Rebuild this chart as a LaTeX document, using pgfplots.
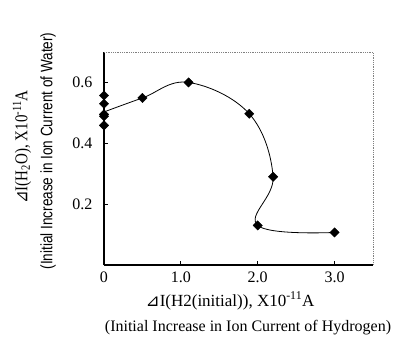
\documentclass[border=0pt]{standalone}
\usepackage{fontspec}
\setmainfont{Liberation Serif}
\newfontfamily\sym{DejaVu Sans}
\newfontfamily\narrow{Liberation Sans}
\usepackage{pgfplots}
\pgfplotsset{compat=1.18}
\begin{document}
\begin{tikzpicture}
\useasboundingbox (-104pt,-95pt) rectangle (316pt,265pt);
\begin{axis}[at={(0pt,0pt)}, anchor=south west, scale only axis,
  width=269pt, height=213pt,
  xmin=0, xmax=3.5, ymin=0, ymax=0.7,
  axis x line*=bottom, axis y line*=left,
  axis line style={line width=1.3pt, -},
  xtick={0,1,2,3}, xticklabels={0,1.0,2.0,3.0},
  ytick={0.2,0.4,0.6}, yticklabels={0.2,0.4,0.6},
  tick align=inside, major tick length=4pt,
  tick style={line width=1pt, black},
  ticklabel style={font=\fontsize{16}{16}\selectfont},
  yticklabel style={xshift=-8pt},
  xticklabel style={yshift=-3pt},
  clip=false]
\addplot[black, line width=0.8pt, smooth, tension=0.65] coordinates {
  (0,0.503) (0.5,0.549) (1.1,0.600) (1.89,0.497) (2.2,0.29) (2.0,0.13) (3.0,0.107)};
\addplot[only marks, mark=square*, mark size=3.3pt, mark options={rotate=45}, black] coordinates {
  (0,0.557) (0,0.530) (0,0.495) (0,0.489) (0,0.459)
  (0.5,0.549) (1.1,0.600) (1.89,0.497) (2.2,0.29) (2.0,0.13) (3.0,0.107)};
\draw[gray, densely dotted, line width=0.8pt] (rel axis cs:0,1) -- (rel axis cs:1,1) -- (rel axis cs:1,0);
\end{axis}
\node[rotate=90, inner sep=0pt] at (-82pt,118pt) {\scalebox{1}[1.2]{\fontsize{15}{15}\selectfont{\sym ⊿}I(H\textsubscript{2}O), X10\textsuperscript{-11}A}};
\node[rotate=90, inner sep=0pt] at (-56pt,114pt) {\resizebox{237pt}{12pt}{\narrow\fontsize{11}{11}\selectfont (Initial Increase in Ion Current of Water)}};
\node[font=\fontsize{17}{17}\selectfont, inner sep=0pt] at (126pt,-36pt) {{\sym ⊿}I(H2(initial)), X10\textsuperscript{-11}A};
\node[font=\fontsize{16}{16}\selectfont, inner sep=0pt] at (144pt,-63pt) {(Initial Increase in Ion Current of Hydrogen)};
\end{tikzpicture}
\end{document}
